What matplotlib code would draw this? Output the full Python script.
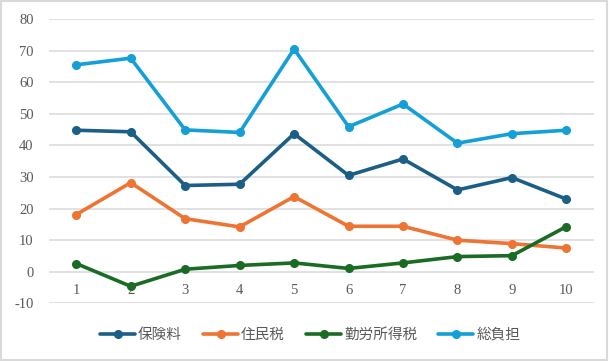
import matplotlib
matplotlib.use("Agg")
import matplotlib.pyplot as plt
from matplotlib.patches import Rectangle

plt.rcParams['font.family'] = ['Liberation Serif', 'Noto Sans CJK JP', 'DejaVu Sans']

categories = ['1', '2', '3', '4', '5', '6', '7', '8', '9', '10']
series_names = ['保険料', '住民税', '勤労所得税', '総負担']
hoken = [44.8, 44.3, 27.3, 27.7, 43.7, 30.5, 35.7, 25.9, 29.8, 23.0]
jumin = [18.1, 28.2, 16.8, 14.2, 23.8, 14.4, 14.4, 10.0, 8.9, 7.5]
kinro = [2.6, -4.6, 0.8, 2.0, 2.8, 1.05, 2.8, 4.8, 5.1, 14.3]
total = [65.5, 67.6, 44.9, 44.1, 70.5, 45.9, 53.1, 40.7, 43.7, 44.8]
colors = ['#1B5E86', '#ED7432', '#1A6B24', '#14A0D6']
y_ticks = [-10, 0, 10, 20, 30, 40, 50, 60, 70, 80]

fig = plt.figure(figsize=(6.14, 3.62), dpi=100)
ax = fig.add_axes([0.0798, 0.162, 0.887, 0.7855])

x = list(range(1, len(categories) + 1))
for vals, name, c in zip([hoken, jumin, kinro, total], series_names, colors):
    ax.plot(x, vals, color=c, lw=2.6, marker='o', markersize=5.5, label=name,
            solid_capstyle='round', zorder=3)

ax.set_xlim(0.5, len(categories) + 0.5)
ax.set_ylim(-10, 80)
ax.set_yticks(y_ticks)
ax.set_yticklabels([str(v) for v in y_ticks])
ax.set_xticks(x)
ax.set_xticklabels(categories)
ax.grid(axis='y', color='#D9D9D9', lw=1.1, zorder=0)
for s in ['top', 'right', 'left']:
    ax.spines[s].set_visible(False)
ax.spines['bottom'].set_position(('data', 0))
ax.spines['bottom'].set_visible(False)
ax.tick_params(axis='both', length=0, labelsize=10.5, labelcolor='#595959')
ax.tick_params(axis='y', pad=11)
ax.tick_params(axis='x', pad=9)

leg = fig.legend(loc='center', bbox_to_anchor=(0.505, 0.075), ncol=4, frameon=False,
                 prop={'family': ['Noto Sans CJK JP'], 'size': 10.5},
                 handlelength=2.4, handletextpad=0.2, columnspacing=1.45)
for t in leg.get_texts():
    t.set_color('#595959')

fig.patches.append(Rectangle((0.002, 0.006), 0.986, 0.99, transform=fig.transFigure,
                             fill=False, edgecolor='#D9D9D9', lw=1.5))

fig.savefig('out.png', dpi=100)
